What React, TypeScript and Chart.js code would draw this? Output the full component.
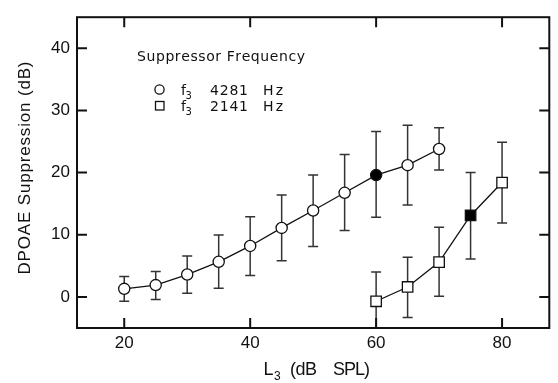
import { useEffect, useRef } from "react";
import { Chart, registerables } from "chart.js";

Chart.register(...registerables);

// Suppressor f3 = 4281 Hz (circles)
const levels4281 = [20, 25, 30, 35, 40, 45, 50, 55, 60, 65, 70];
const supp4281 = [1.3, 1.9, 3.6, 5.65, 8.2, 11.1, 13.9, 16.75, 19.6, 21.2, 23.8];
const upper4281 = [3.3, 4.1, 6.6, 9.95, 12.9, 16.4, 19.6, 22.9, 26.6, 27.6, 27.2];
const lower4281 = [-0.7, -0.4, 0.6, 1.4, 3.45, 5.8, 8.1, 10.7, 12.8, 14.8, 20.4];
const filledLevel4281 = 60;

// Suppressor f3 = 2141 Hz (squares)
const levels2141 = [60, 65, 70, 75, 80];
const supp2141 = [-0.7, 1.6, 5.6, 13.1, 18.4];
const upper2141 = [4.0, 6.4, 11.2, 20.0, 24.9];
const lower2141 = [-5.4, -3.3, 0.1, 6.1, 11.9];
const filledLevel2141 = 75;

const xTicks = [20, 40, 60, 80];
const yTicks = [0, 10, 20, 30, 40];
const xMin = 12.5;
const xMax = 87.5;
const yMin = -5;
const yMax = 45;

const legendTitle = "Suppressor Frequency";
const legendFreqs = ["4281", "2141"];
const legendUnit = "Hz";
const yTitle = "DPOAE Suppression (dB)";

const FONT = "'Liberation Sans', Arial, sans-serif";
const LFONT = "'DejaVu Sans', sans-serif";

function spacedText(ctx: CanvasRenderingContext2D, text: string, x: number, y: number, width: number) {
  const chars = Array.from(text);
  const natural = chars.reduce((s, c) => s + ctx.measureText(c).width, 0);
  const gap = chars.length > 1 ? (width - natural) / (chars.length - 1) : 0;
  let cx = x;
  ctx.textAlign = "left";
  for (const c of chars) {
    ctx.fillText(c, cx, y);
    cx += ctx.measureText(c).width + gap;
  }
}

const errorBarPlugin = {
  id: "errorBars",
  beforeDatasetsDraw(chart: any) {
    const { ctx, chartArea, scales } = chart;
    const xs = scales.x;
    const ys = scales.y;
    const sets = [
      { lv: levels4281, up: upper4281, lo: lower4281 },
      { lv: levels2141, up: upper2141, lo: lower2141 },
    ];
    ctx.save();
    ctx.beginPath();
    ctx.rect(chartArea.left, chartArea.top, chartArea.right - chartArea.left, chartArea.bottom - chartArea.top);
    ctx.clip();
    ctx.strokeStyle = "#333";
    ctx.lineWidth = 1.5;
    for (const s of sets) {
      s.lv.forEach((lv, i) => {
        const x = xs.getPixelForValue(lv);
        const yt = ys.getPixelForValue(s.up[i]);
        const yb = ys.getPixelForValue(s.lo[i]);
        ctx.beginPath();
        ctx.moveTo(x, yt);
        ctx.lineTo(x, yb);
        ctx.moveTo(x - 5, yt);
        ctx.lineTo(x + 5, yt);
        ctx.moveTo(x - 5, yb);
        ctx.lineTo(x + 5, yb);
        ctx.stroke();
      });
    }
    ctx.restore();
  },
};

const framePlugin = {
  id: "frame",
  afterDraw(chart: any) {
    const { ctx, chartArea, scales } = chart;
    const { left, right, top, bottom } = chartArea;
    ctx.save();
    ctx.strokeStyle = "#111";
    ctx.lineWidth = 2;
    ctx.strokeRect(left, top, right - left, bottom - top);
    ctx.beginPath();
    for (const v of xTicks) {
      const x = scales.x.getPixelForValue(v);
      ctx.moveTo(x, bottom);
      ctx.lineTo(x, bottom - 10);
      ctx.moveTo(x, top);
      ctx.lineTo(x, top + 10);
    }
    for (const v of yTicks) {
      const y = scales.y.getPixelForValue(v);
      ctx.moveTo(left, y);
      ctx.lineTo(left + 10, y);
      ctx.moveTo(right, y);
      ctx.lineTo(right - 10, y);
    }
    ctx.stroke();

    // axis titles
    ctx.fillStyle = "#111";
    ctx.textBaseline = "alphabetic";
    ctx.font = `18px ${FONT}`;
    ctx.fillText("L", 263.5, 374.5);
    ctx.font = `12px ${FONT}`;
    ctx.fillText("3", 274, 380);
    ctx.font = `18px ${FONT}`;
    spacedText(ctx, "(dB", 290, 374.5, 27);
    spacedText(ctx, "SPL)", 333, 374.5, 37);

    ctx.save();
    ctx.translate(29.5, 168);
    ctx.rotate(-Math.PI / 2);
    ctx.font = `17px ${FONT}`;
    spacedText(ctx, yTitle, -106.5, 0, 213);
    ctx.restore();

    // legend
    ctx.font = `14px ${LFONT}`;
    spacedText(ctx, legendTitle, 137, 61, 168);
    ctx.lineWidth = 1.3;
    ctx.strokeStyle = "#111";
    ctx.fillStyle = "#fff";
    ctx.beginPath();
    ctx.arc(159.5, 89.5, 4.6, 0, Math.PI * 2);
    ctx.fill();
    ctx.stroke();
    ctx.fillRect(155.5, 101.5, 8.5, 8.5);
    ctx.strokeRect(155.5, 101.5, 8.5, 8.5);
    ctx.fillStyle = "#111";
    const rows = [95, 110.5];
    rows.forEach((by, i) => {
      ctx.font = `14px ${LFONT}`;
      ctx.fillText("f", 181, by);
      ctx.font = `10px ${LFONT}`;
      ctx.fillText("3", 185.5, by + 4);
      ctx.font = `14px ${LFONT}`;
      spacedText(ctx, legendFreqs[i], 210, by, 38);
      spacedText(ctx, legendUnit, 263, by, 20);
    });
    ctx.restore();
  },
};

export default function App() {
  const ref = useRef<HTMLCanvasElement | null>(null);
  useEffect(() => {
    if (!ref.current) return;
    const chart = new Chart(ref.current, {
      type: "scatter",
      data: {
        datasets: [
          {
            data: levels4281.map((x, i) => ({ x, y: supp4281[i] })),
            showLine: true,
            borderColor: "#111",
            borderWidth: 1.3,
            pointStyle: "circle",
            pointRadius: 5.6,
            pointBorderWidth: 1.3,
            pointBorderColor: "#111",
            pointBackgroundColor: levels4281.map((l) => (l === filledLevel4281 ? "#000" : "#fff")),
          },
          {
            data: levels2141.map((x, i) => ({ x, y: supp2141[i] })),
            showLine: true,
            borderColor: "#111",
            borderWidth: 1.3,
            pointStyle: "rect",
            pointRadius: 7.4,
            pointBorderWidth: 1.3,
            pointBorderColor: "#111",
            pointBackgroundColor: levels2141.map((l) => (l === filledLevel2141 ? "#000" : "#fff")),
          },
        ],
      },
      options: {
        animation: false,
        responsive: false,
        events: [],
        layout: { padding: { top: 8, right: 5, left: 0, bottom: 0 } },
        plugins: { legend: { display: false }, tooltip: { enabled: false } },
        scales: {
          x: {
            type: "linear",
            min: xMin,
            max: xMax,
            border: { display: false },
            grid: { display: false, drawTicks: false },
            afterBuildTicks: (s: any) => {
              s.ticks = xTicks.map((v) => ({ value: v }));
            },
            ticks: {
              font: { family: FONT, size: 17 },
              color: "#111",
              padding: 5,
              maxRotation: 0,
              callback: (v: any) => String(v),
            },
            afterFit: (s: any) => {
              s.height = 55;
            },
          },
          y: {
            type: "linear",
            min: yMin,
            max: yMax,
            border: { display: false },
            grid: { display: false, drawTicks: false },
            afterBuildTicks: (s: any) => {
              s.ticks = yTicks.map((v) => ({ value: v }));
            },
            ticks: {
              font: { family: FONT, size: 17 },
              color: "#111",
              padding: 7,
              callback: (v: any) => String(v),
            },
            afterFit: (s: any) => {
              s.width = 77;
            },
          },
        },
      },
      plugins: [errorBarPlugin, framePlugin],
    });
    return () => chart.destroy();
  }, []);
  return (
    <div style={{ position: "fixed", left: 0, top: 0, width: 558, height: 383, background: "#fff" }}>
      <canvas ref={ref} width={558} height={383} />
    </div>
  );
}
